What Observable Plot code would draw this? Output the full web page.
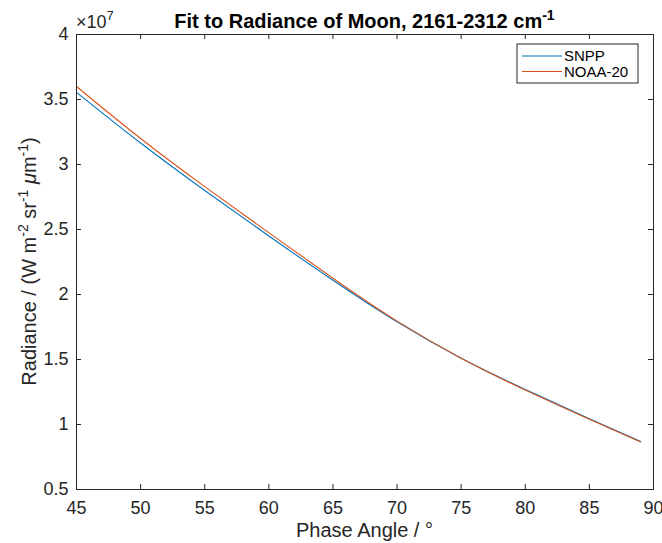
<!DOCTYPE html>
<html><head><meta charset="utf-8">
<script src="https://cdn.jsdelivr.net/npm/d3@7"></script>
<script src="https://cdn.jsdelivr.net/npm/@observablehq/plot@0.6"></script>
<style>html,body{margin:0;padding:0;background:#fff} svg{display:block}</style>
</head><body><div id="chart"></div>
<script>
// Data (radiance in units of 1e7 W m^-2 sr^-1 µm^-1)
const phaseAngle = [45, 50, 55, 60, 65, 70, 75, 80, 85, 89];
const snpp   = [3.555, 3.165, 2.80, 2.45, 2.11, 1.79, 1.51, 1.27, 1.045, 0.87];
const noaa20 = [3.60, 3.20, 2.83, 2.475, 2.125, 1.795, 1.51, 1.265, 1.04, 0.865];
const seriesNames = ["SNPP", "NOAA-20"];
const seriesColors = ["#0072BD", "#D95319"];
const xTicks = [45, 50, 55, 60, 65, 70, 75, 80, 85, 90];
const yTicks = [0.5, 1, 1.5, 2, 2.5, 3, 3.5, 4];
const yTickLabels = ["0.5", "1", "1.5", "2", "2.5", "3", "3.5", "4"];

const data = [];
phaseAngle.forEach((a, i) => data.push({series: seriesNames[0], x: a, y: snpp[i]}));
phaseAngle.forEach((a, i) => data.push({series: seriesNames[1], x: a, y: noaa20[i]}));

const W = 662, H = 543, mL = 76, mR = 9, mT = 34, mB = 54;
const pw = W - mL - mR, ph = H - mT - mB;
const font = '"Liberation Sans", Arial, Helvetica, sans-serif';
const ink = "#262626";
const tl = 5;

const chart = Plot.plot({
  width: W, height: H,
  marginLeft: mL, marginRight: mR, marginTop: mT, marginBottom: mB,
  style: {fontFamily: font, background: "#fff", color: ink, overflow: "visible"},
  x: {domain: [45, 90]},
  y: {domain: [0.5, 4]},
  color: {domain: seriesNames, range: seriesColors},
  marks: [
    Plot.line(data, {x: "x", y: "y", z: "series", stroke: "series", strokeWidth: 1.1, curve: "natural"}),
    Plot.tickX(xTicks, {x: d => d, stroke: ink, insetTop: ph - tl}),
    Plot.tickX(xTicks, {x: d => d, stroke: ink, insetBottom: ph - tl}),
    Plot.tickY(yTicks, {y: d => d, stroke: ink, insetRight: pw - tl}),
    Plot.tickY(yTicks, {y: d => d, stroke: ink, insetLeft: pw - tl}),
    Plot.frame({stroke: ink, strokeWidth: 1}),
    Plot.axisX(xTicks, {tickSize: 0, tickPadding: 12, fontSize: 18, label: null}),
    Plot.axisY(yTicks, {tickSize: 0, tickPadding: 8, fontSize: 18, label: null,
      tickFormat: (d) => yTickLabels[yTicks.indexOf(d)]})
  ]
});
document.getElementById("chart").appendChild(chart);

const svg = d3.select(chart);
const cx = mL + pw / 2;

// Title
const title = svg.append("text").attr("x", cx).attr("y", 28)
  .attr("text-anchor", "middle").attr("font-family", font).attr("font-size", 20)
  .attr("font-weight", "bold").attr("fill", "#000");
title.append("tspan").text("Fit to Radiance of Moon, 2161-2312 cm");
title.append("tspan").attr("dy", -8).attr("font-size", 14).text("-1");

// exponent label
const ex = svg.append("text").attr("x", mL).attr("y", 28).attr("text-anchor", "start")
  .attr("font-family", font).attr("font-size", 18).attr("fill", ink);
ex.append("tspan").text("×10");
ex.append("tspan").attr("dy", -8).attr("font-size", 13).text("7");

// x label
svg.append("text").attr("x", cx).attr("y", 537).attr("text-anchor", "middle")
  .attr("font-family", font).attr("font-size", 20).attr("fill", ink)
  .text("Phase Angle / °");

// y label
const yl = svg.append("text").attr("transform", `translate(36,${mT + ph / 2}) rotate(-90)`)
  .attr("text-anchor", "middle").attr("font-family", font).attr("font-size", 20).attr("fill", ink);
const parts = [["Radiance / (W m", 0], ["-2", 1], [" sr", 0], ["-1", 1], [" ", 0], ["μ", 2], ["m", 0], ["-1", 1], [")", 0]];
let up = false;
parts.forEach(([t, k]) => {
  const s = yl.append("tspan").text(t);
  if (k === 1) { s.attr("font-size", 14).attr("dy", up ? 0 : -8); up = true; }
  else { if (up) s.attr("dy", 8); up = false; if (k === 2) s.attr("font-style", "italic"); }
});

// legend
const lx = 517, ly = 44, lw = 121, lh = 39;
svg.append("rect").attr("x", lx).attr("y", ly).attr("width", lw).attr("height", lh)
  .attr("fill", "#fff").attr("stroke", ink).attr("stroke-width", 1);
seriesNames.forEach((n, i) => {
  const y = ly + 12 + i * 15.5;
  svg.append("line").attr("x1", lx + 5).attr("x2", lx + 45).attr("y1", y).attr("y2", y)
    .attr("stroke", seriesColors[i]).attr("stroke-width", 1.1);
  svg.append("text").attr("x", lx + 47).attr("y", y).attr("dy", "0.35em").attr("text-anchor", "start")
    .attr("font-family", font).attr("font-size", 15).attr("fill", "#000").text(n);
});
</script></body></html>
